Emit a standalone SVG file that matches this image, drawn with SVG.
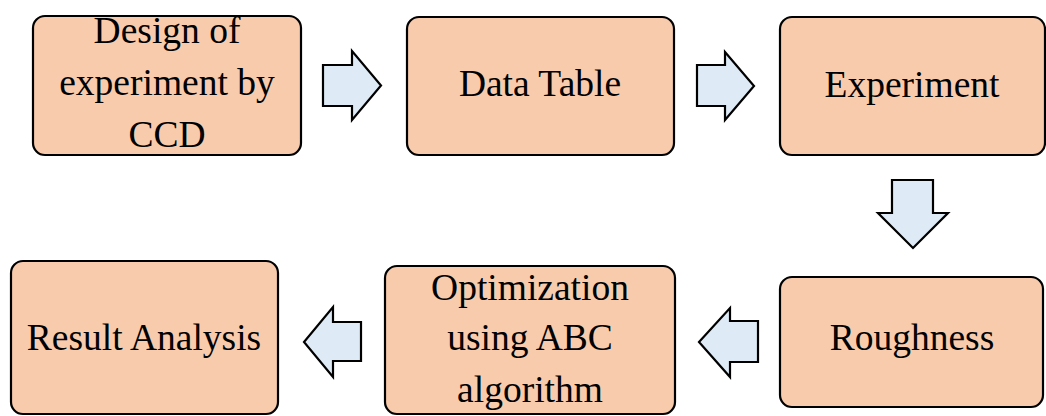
<svg xmlns="http://www.w3.org/2000/svg" width="1046" height="416" viewBox="0 0 1046 416">
<style>
.box{fill:#F8CBAD;stroke:#000;stroke-width:2.2}
.arr{fill:#DEEBF7;stroke:#000;stroke-width:2.2;stroke-linejoin:miter}
.t{font-family:"Liberation Serif",serif;font-size:37.5px;fill:#000;text-anchor:middle}
</style>
<rect width="1046" height="416" fill="#fff"/>
<g id="connectors">
<polygon class="arr" points="323,65 352,65 352,51 381,85.5 352,120 352,106 323,106"/>
<polygon class="arr" points="697,65 725,65 725,52 754,86 725,120 725,106 697,106"/>
<polygon class="arr" points="892,180 933,180 933,213 948,213 913,248 878,213 892,213"/>
<polygon class="arr" points="758,321 730,321 730,308 699,342 730,377 730,362 758,362"/>
<polygon class="arr" points="361,322 333,322 333,307 304,342 333,377 333,361 361,361"/>
</g>
<g id="n1"><rect class="box" x="33" y="16" width="268" height="139" rx="12"/>
<text class="t" x="167" y="43">Design of</text><text class="t" x="167" y="95">experiment by</text><text class="t" x="167" y="147">CCD</text></g>
<g id="n2"><rect class="box" x="407" y="17" width="267" height="138" rx="12"/>
<text class="t" x="540" y="96">Data Table</text></g>
<g id="n3"><rect class="box" x="780" y="17" width="265" height="138" rx="12"/>
<text class="t" x="912" y="97">Experiment</text></g>
<g id="n4"><rect class="box" x="780" y="277" width="263" height="130" rx="12"/>
<text class="t" x="912" y="350">Roughness</text></g>
<g id="n5"><rect class="box" x="385" y="266" width="290" height="148" rx="12"/>
<text class="t" x="530" y="300">Optimization</text><text class="t" x="530" y="350">using ABC</text><text class="t" x="530" y="402">algorithm</text></g>
<g id="n6"><rect class="box" x="11" y="261" width="267" height="153" rx="12"/>
<text class="t" x="144" y="350">Result Analysis</text></g>
</svg>
